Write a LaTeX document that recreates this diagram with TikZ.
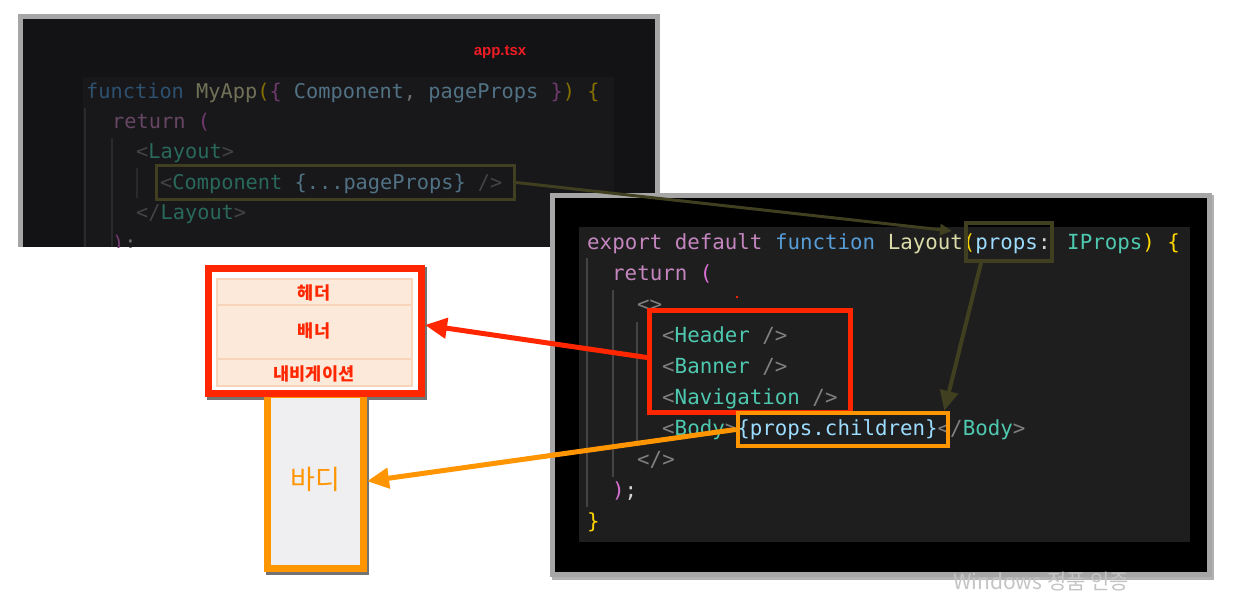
\documentclass[tikz,border=0pt]{standalone}
\usepackage{fontspec}
\usetikzlibrary{arrows.meta,fit}
\newfontfamily\codefont{DejaVu Sans Mono}
\newfontfamily\krfont{Noto Sans CJK KR}
\newfontfamily\labelfont{Liberation Sans}
\definecolor{kw}{HTML}{C586C0}
\definecolor{fn}{HTML}{569CD6}
\definecolor{yl}{HTML}{DCDCAA}
\definecolor{gd}{HTML}{FFD700}
\definecolor{lb}{HTML}{9CDCFE}
\definecolor{tl}{HTML}{4EC9B0}
\definecolor{gy}{HTML}{808080}
\definecolor{wt}{HTML}{D4D4D4}
\definecolor{mg}{HTML}{DA70D6}
\definecolor{codeBg}{HTML}{1E1E1E}
\definecolor{leftBg}{HTML}{131315}
\definecolor{leftCode}{HTML}{18181B}
\definecolor{leftGuide}{HTML}{2A2A2C}
\definecolor{rightGuide}{HTML}{444444}
\definecolor{frameGray}{HTML}{A6A6A6}
\definecolor{olive}{HTML}{403F1F}
\definecolor{markRed}{HTML}{FF2600}
\definecolor{markOrange}{HTML}{FF9500}
\definecolor{fileRed}{HTML}{EE1C24}
\definecolor{peach}{HTML}{FDE9D9}
\definecolor{peachLine}{HTML}{F8D5BA}
\definecolor{bodyGray}{HTML}{EFEFF2}
\newcommand{\kc}[2]{\textcolor{#1}{#2}}
\newcommand{\dc}[2]{\textcolor{#1!52!black}{#2}}

\begin{document}
\begin{tikzpicture}[x=1pt,y=-1pt,
    codeline/.style={anchor=base west, inner sep=0pt, text=wt, font=\codefont\fontsize{20.8}{25}\selectfont},
    dimline/.style={anchor=base west, inner sep=0pt, text=wt!52!black, font=\codefont\fontsize{20.3}{25}\selectfont},
    guide/.style={draw=#1, line width=1.5pt},
    markbox/.style={draw=#1, inner sep=0pt},
    cell/.style={fill=peach, draw=peachLine, line width=1.2pt, inner sep=0pt},
    celltext/.style={inner sep=0pt, text=markRed, font=\krfont\bfseries\fontsize{17.5}{19}\selectfont},
    pointer/.style={draw=#1, line width=5pt, -{Triangle[length=22pt,width=20pt]}}]
    \fill[white] (0,0) rectangle (1241,597);
    \useasboundingbox (0,0) rectangle (1241,597);

    % app.tsx panel
    \fill[frameGray] (18,14) rectangle (660,247);
    \fill[leftBg] (23,19) rectangle (655,247);
    \begin{scope}
        \clip (23,19) rectangle (655,247);
        \fill[leftCode] (83,77) rectangle (614,247);
        \draw[guide=leftGuide] (85,108) -- (85,247);
        \draw[guide=leftGuide] (112,138) -- (112,247);
        \draw[guide=leftGuide] (137,168) -- (137,198);
        \node[dimline] (myapp) at (86,98) {\dc{fn}{function} \dc{yl}{MyApp}\dc{gd}{(}\dc{mg}{\{} \dc{lb}{Component}, \dc{lb}{pageProps} \dc{mg}{\}}\dc{gd}{)} \dc{gd}{\{}};
        \node[dimline] (appret) at (112,128) {\dc{kw}{return} \dc{mg}{(}};
        \node[dimline] (layopen) at (136,158) {\dc{gy}{<}\dc{tl}{Layout}\dc{gy}{>}};
        \node[dimline] (comptag) at (160,189) {\dc{gy}{<}\dc{tl}{Component} \dc{lb}{\{...pageProps\}} \dc{gy}{/>}};
        \node[dimline] (layclose) at (136,219) {\dc{gy}{</}\dc{tl}{Layout}\dc{gy}{>}};
        \node[dimline] (appretclose) at (112,250) {\dc{mg}{)};};
    \end{scope}
    \node[text=fileRed, font=\labelfont\bfseries\fontsize{15}{17}\selectfont] (fname) at (500,52) {app.tsx};
    \node[markbox=olive, line width=3pt, fit={(156.5,165.5) (514.5,199.5)}] (compbox) {};

    % Layout panel
    \fill[black!30] (552,195) rectangle (1214,580);
    \fill[frameGray] (550,193) rectangle (1212,577);
    \fill[black] (555,198) rectangle (1207,572);
    \fill[codeBg] (579,227) rectangle (1190,542);
    \draw[guide=rightGuide] (587,258) -- (587,507);
    \draw[guide=rightGuide] (613,290) -- (613,477);
    \draw[guide=rightGuide] (637,322) -- (637,443);
    \node[codeline] (sig) at (587,249) {\kc{kw}{export default} \kc{fn}{function} \kc{yl}{Layout}\kc{gd}{(}\kc{lb}{props}: \kc{tl}{IProps}\kc{gd}{)} \kc{gd}{\{}};
    \node[codeline] (ret) at (612,280.1) {\kc{kw}{return} \kc{mg}{(}};
    \node[codeline] (fragopen) at (637,311.2) {\kc{gy}{<>}};
    \node[codeline] (hdrtag) at (662,342.3) {\kc{gy}{<}\kc{tl}{Header} \kc{gy}{/>}};
    \node[codeline] (bnrtag) at (662,373.4) {\kc{gy}{<}\kc{tl}{Banner} \kc{gy}{/>}};
    \node[codeline] (navtag) at (662,404.5) {\kc{gy}{<}\kc{tl}{Navigation} \kc{gy}{/>}};
    \node[codeline] (bodytag) at (662,435.6) {\kc{gy}{<}\kc{tl}{Body}\kc{gy}{>}\kc{lb}{\{props.children\}}\kc{gy}{</}\kc{tl}{Body}\kc{gy}{>}};
    \node[codeline] (fragclose) at (637,466.7) {\kc{gy}{</>}};
    \node[codeline] (retclose) at (612,497.8) {\kc{mg}{)};};
    \node[codeline] (sigclose) at (587,528.9) {\kc{gd}{\}}};
    \fill[markRed] (737,297) circle (1.3);

    \node[markbox=olive, line width=4pt, fit={(966,223) (1052,261)}] (propsbox) {};
    \node[markbox=markRed, line width=5pt, fit={(649.5,310.5) (850.5,412.5)}] (tagbox) {};
    \node[markbox=markOrange, line width=4.5pt, fit={(738,413) (948,446)}] (childbox) {};
    \draw[olive, line width=3pt, -{Triangle[length=12pt,width=11pt]}] (compbox.east) -- ([xshift=-12pt,yshift=-10pt]propsbox.north west);
    \draw[olive, line width=4pt, -{Triangle[length=20pt,width=18pt]}] ([xshift=-28pt]propsbox.south) -- ([xshift=-6pt]childbox.north east);

    % layout sketch
    \fill[black!55] (207,267) rectangle (427,400);
    \fill[black!55] (266,394) rectangle (369,575);
    \node[fill=bodyGray, draw=markOrange, line width=7pt, inner sep=0pt, fit={(267.5,394) (363.5,568.5)}] (bodybox) {};
    \node[inner sep=0pt, text=markOrange, font=\krfont\fontsize{27}{29}\selectfont] (bodytext) at (315,479) {바디};
    \node[draw=markRed, fill=white, line width=7pt, inner sep=0pt, fit={(208.5,268.5) (421.5,393.5)}] (hdrframe) {};
    \node[cell, fit={(217,279) (412,305)}] (hdrcell) {};
    \node[cell, fit={(217,305) (412,359)}] (bnrcell) {};
    \node[cell, fit={(217,359) (412,386)}] (navcell) {};
    \node[celltext] (hdrtext) at (314,293) {헤더};
    \node[celltext] (bnrtext) at (314,331) {배너};
    \node[celltext] (navtext) at (314,374) {내비게이션};

    \draw[pointer=markRed] ([yshift=4pt]tagbox.west) -- ([yshift=6pt]hdrframe.east);
    \draw[pointer=markOrange] (childbox.west) -- (bodybox.east);

    \begin{scope}
        \clip (0,0) rectangle (1241,597);
        \node[anchor=base west, inner sep=0pt, text=black!23, font=\krfont\fontsize{21}{23}\selectfont] (winmark) at (953,589) {Windows 정품 인증};
    \end{scope}
\end{tikzpicture}
\end{document}
